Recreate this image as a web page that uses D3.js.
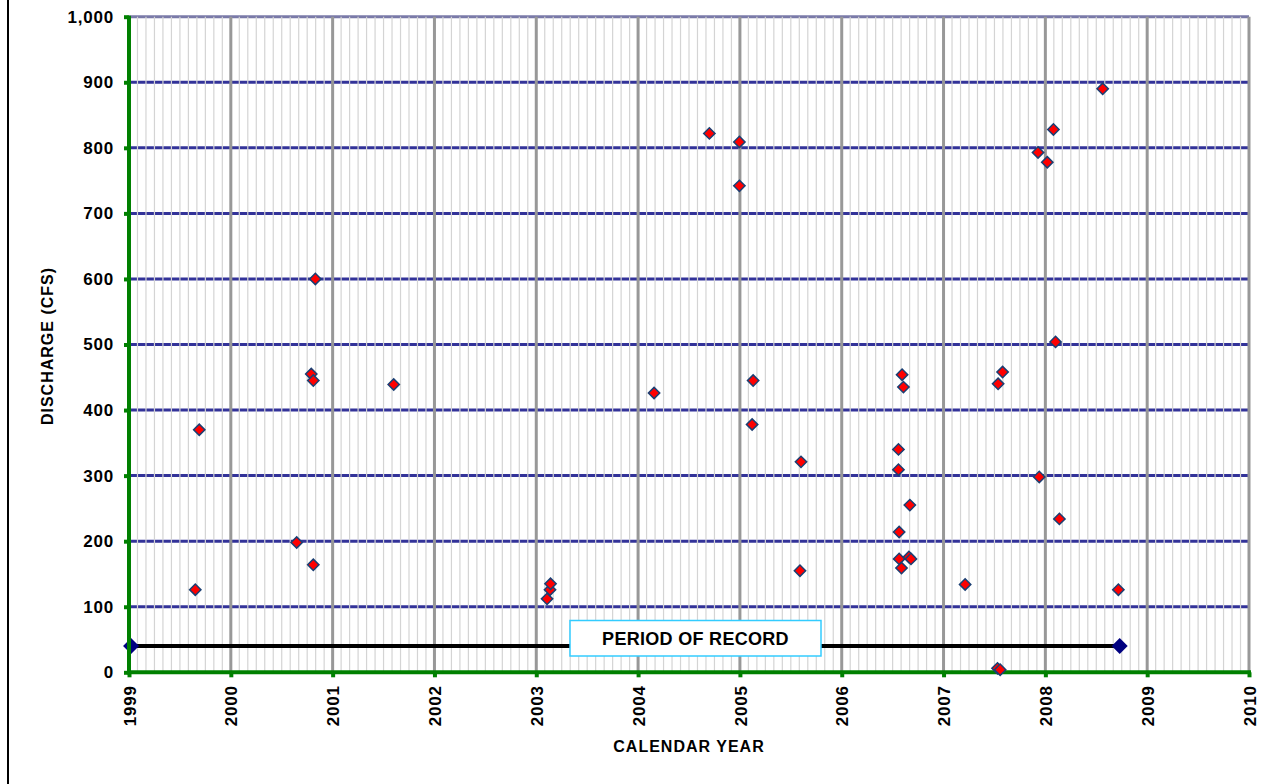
<!DOCTYPE html>
<html><head><meta charset="utf-8">
<script src="https://cdn.jsdelivr.net/npm/d3@7"></script>
<style>body{margin:0;background:#fff;} text{font-family:"Liberation Sans",Arial,sans-serif;font-weight:bold;}</style>
</head><body>
<svg id="chart" width="1285" height="784"></svg>
<script>
// Sample dates (decimal years) and discharge (cfs)
const sampleYears = [1999.651, 1999.69, 2000.647, 2000.81, 2000.79, 2000.81, 2000.83, 2001.60,
  2003.106, 2003.135, 2003.14, 2004.157, 2004.70, 2004.995, 2004.995, 2005.12, 2005.13, 2005.59, 2005.60,
  2006.557, 2006.557, 2006.564, 2006.564, 2006.587, 2006.593, 2006.606, 2006.66, 2006.669, 2006.68,
  2007.212, 2007.53, 2007.556, 2007.536, 2007.58, 2007.928, 2007.94, 2008.019, 2008.079, 2008.10, 2008.138,
  2008.563, 2008.717];
const discharge = [126, 370, 198, 164, 455, 445, 600, 439,
  112, 126, 135, 426, 822, 809, 742, 378, 445, 155, 321,
  340, 309, 214, 173, 159, 454, 435, 176, 255, 173,
  134, 6, 4, 440, 458, 793, 298, 778, 828, 504, 234,
  890, 126];
const periodStart = 1999.02, periodEnd = 2008.73, periodLevel = 40;
const periodLabel = "PERIOD OF RECORD";
const yearTicks = [1999,2000,2001,2002,2003,2004,2005,2006,2007,2008,2009,2010];
const yTicks = [0,100,200,300,400,500,600,700,800,900,1000];
const xTitle = "CALENDAR YEAR", yTitle = "DISCHARGE (CFS)";

const svg = d3.select("#chart");
const L = 129, R = 1249, T = 16.7, B = 672.3;
const x = d3.scaleLinear().domain([1999, 2010]).range([L, R]);
const y = d3.scaleLinear().domain([0, 1000]).range([B, T]);

// outer frame left line
svg.append("line").attr("x1",8).attr("x2",8).attr("y1",0).attr("y2",784).attr("stroke","#000").attr("stroke-width",2);

// horizontal gridlines
svg.append("g").selectAll("line").data(yTicks.filter(d=>d>0)).join("line")
  .attr("x1",L).attr("x2",R).attr("y1",d=>y(d)).attr("y2",d=>y(d))
  .attr("stroke",d=>d===1000?"#7a7aa8":"#333399").attr("stroke-width",3);

// minor monthly gridlines
const months = [];
for (let yr=1999; yr<2010; yr++) for (let m=1; m<12; m++) months.push(yr + m/12);
svg.append("g").selectAll("line").data(months).join("line")
  .attr("x1",d=>x(d)).attr("x2",d=>x(d)).attr("y1",T).attr("y2",B)
  .attr("stroke","#d4d4d4").attr("stroke-width",1.2);
// major year lines
svg.append("g").selectAll("line").data(yearTicks.slice(1)).join("line")
  .attr("x1",d=>x(d)).attr("x2",d=>x(d)).attr("y1",T).attr("y2",B)
  .attr("stroke","#989898").attr("stroke-width",3);

// period of record line
svg.append("line").attr("x1",x(periodStart)).attr("x2",x(periodEnd))
  .attr("y1",y(periodLevel)).attr("y2",y(periodLevel)).attr("stroke","#000").attr("stroke-width",4);
const bigDiamond = d3.symbol(d3.symbolSquare, 128)();
svg.append("g").selectAll("path").data([periodStart, periodEnd]).join("path")
  .attr("d", bigDiamond).attr("fill","#000080")
  .attr("transform", d=>`translate(${x(d)},${y(periodLevel)}) rotate(45)`);

// axes (green)
const gx = svg.append("g").attr("transform",`translate(0,${B})`)
  .call(d3.axisBottom(x).tickValues(yearTicks).tickFormat(d3.format("d")).tickSize(5));
gx.select(".domain").attr("stroke","#008000").attr("stroke-width",4).attr("d",`M${L-2},0H${R+2}`);
gx.selectAll(".tick line").attr("stroke","#008000").attr("stroke-width",4);
gx.selectAll(".tick text").attr("fill","#000").style("font-size","17px").style("letter-spacing","0.8px")
  .attr("transform","rotate(-90)").attr("text-anchor","end").attr("x",-13).attr("y",0).attr("dy","0.36em");

const gy = svg.append("g").attr("transform",`translate(${L},0)`)
  .call(d3.axisLeft(y).tickValues(yTicks).tickFormat(d3.format(",")).tickSize(5));
gy.select(".domain").attr("stroke","#008000").attr("stroke-width",4).attr("d",`M0,${T-1}V${B+2}`);
gy.selectAll(".tick line").attr("stroke","#008000").attr("stroke-width",4);
gy.selectAll(".tick text").attr("fill","#000").style("font-size","17px").style("letter-spacing","0.8px").attr("x",-15);

// data points
const smallDiamond = d3.symbol(d3.symbolSquare, 64)();
svg.append("g").selectAll("path").data(sampleYears.map((s,i)=>({s, v:discharge[i]}))).join("path")
  .attr("d", smallDiamond).attr("fill","#ff0000").attr("stroke","#1a3f73").attr("stroke-width",1.5)
  .attr("transform", d=>`translate(${x(d.s)},${y(d.v)}) rotate(45)`);

// label box
const bx = 570, bw = 251, by = 620.5, bh = 35.5;
svg.append("rect").attr("x",bx).attr("y",by).attr("width",bw).attr("height",bh)
  .attr("fill","#fff").attr("stroke","#33ccff").attr("stroke-width",1.5);
svg.append("text").attr("x",bx+bw/2).attr("y",by+bh/2).attr("dy","0.36em")
  .attr("text-anchor","middle").style("font-size","18px").style("letter-spacing","0.3px").text(periodLabel);

// titles
svg.append("text").attr("x",(L+R)/2).attr("y",752).attr("text-anchor","middle")
  .style("font-size","16px").style("letter-spacing","1px").text(xTitle);
svg.append("text").attr("transform",`translate(53,346) rotate(-90)`).attr("text-anchor","middle")
  .style("font-size","16px").style("letter-spacing","1px").text(yTitle);
</script>
</body></html>
